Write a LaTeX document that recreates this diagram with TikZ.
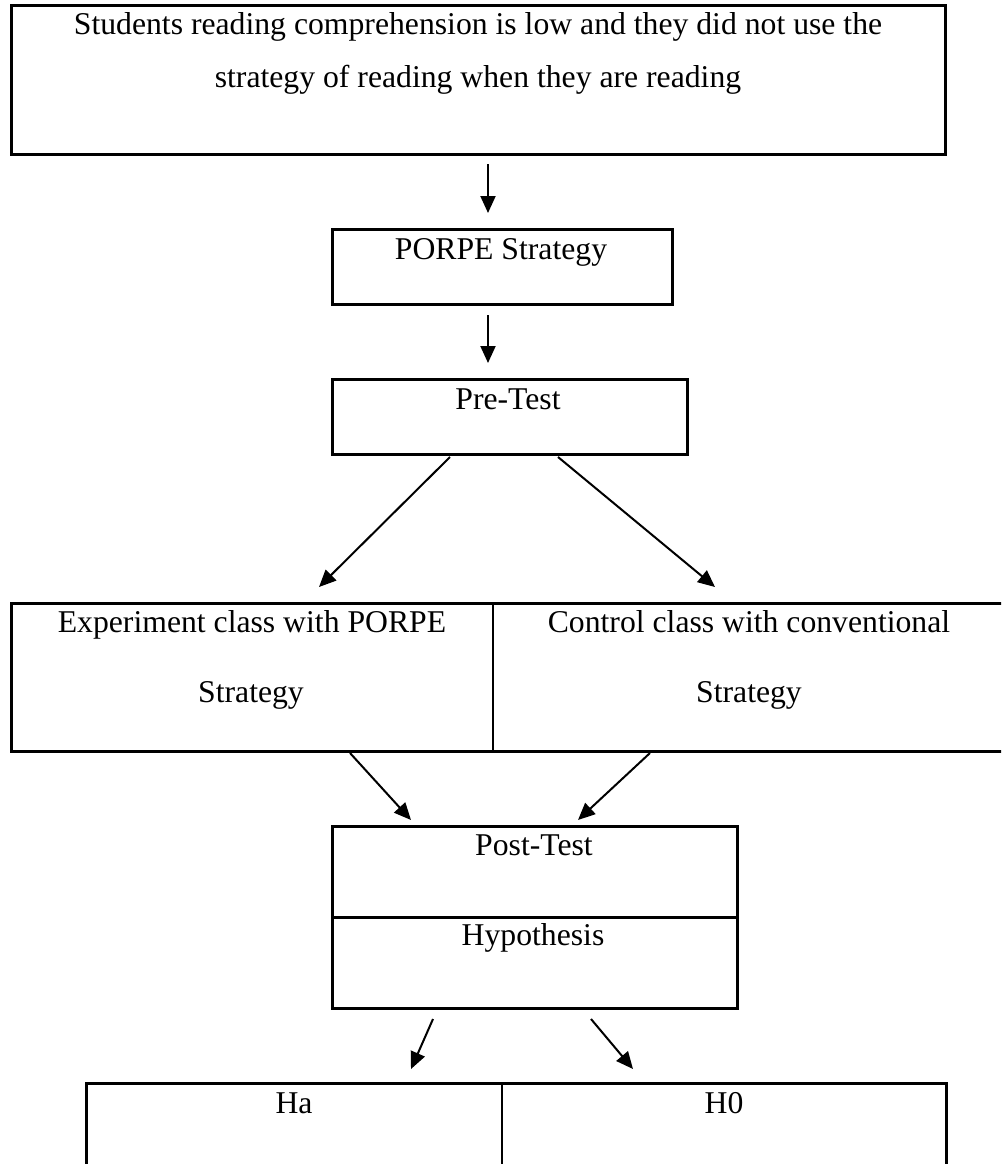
\documentclass[tikz,border=0pt]{standalone}
\usepackage{fontspec}
\setmainfont{Liberation Serif}
\usetikzlibrary{arrows.meta}
\begin{document}
\begin{tikzpicture}[x=1pt,y=-1pt,
  boxline/.style={draw=black,line width=3pt,inner sep=0pt,outer sep=0pt,anchor=north west},
  lbl/.style={anchor=base,inner sep=0pt,font=\fontsize{31.7}{38}\selectfont},
  arr/.style={line width=2pt,-{Triangle[length=17pt,width=15pt]}}]
\useasboundingbox (0,0) rectangle (1001,1164);
\clip (0,0) rectangle (1001,1164);
% boxes
\node[boxline,minimum width=934pt,minimum height=148pt] (problem) at (11,6) {};
\node[boxline,minimum width=340pt,minimum height=75pt] (porpe) at (332,229) {};
\node[boxline,minimum width=355pt,minimum height=75pt] (pretest) at (332,379) {};
\node[boxline,minimum width=994pt,minimum height=148pt] (classes) at (11,603) {};
\node[boxline,minimum width=405pt,minimum height=182pt] (posttest) at (332,826) {};
\node[boxline,minimum width=860pt,minimum height=160pt] (hyp) at (86,1083) {};
% dividers
\draw[line width=1.6pt] (493,603) -- (493,751);
\draw[line width=3pt] (332,917) -- (737,917);
\draw[line width=2.5pt] (502,1083) -- (502,1250);
% texts
\node[lbl] (t1) at (478,35) {Students reading comprehension is low and they did not use the};
\node[lbl] (t2) at (478,87) {strategy of reading when they are reading};
\node[lbl] (t3) at (501,259) {PORPE Strategy};
\node[lbl] (t4) at (508,409) {Pre-Test};
\node[lbl] (t5) at (252,632) {Experiment class with PORPE};
\node[lbl] (t6) at (251,702) {Strategy};
\node[lbl] (t7) at (749,632) {Control class with conventional};
\node[lbl] (t8) at (749,702) {Strategy};
\node[lbl] (t9) at (534,855) {Post-Test};
\node[lbl] (t10) at (533,945) {Hypothesis};
\node[lbl] (t11) at (294,1113) {Ha};
\node[lbl] (t12) at (724,1113) {H0};
% arrow end points
\coordinate (a1s) at (488,164); \coordinate (a1e) at (488,213);
\coordinate (a2s) at (488,315); \coordinate (a2e) at (488,363);
\coordinate (a3s) at (450,457); \coordinate (a3e) at (319,587);
\coordinate (a4s) at (558,457); \coordinate (a4e) at (715,587);
\coordinate (a5s) at (350,753); \coordinate (a5e) at (411,820);
\coordinate (a6s) at (650,753); \coordinate (a6e) at (578,820);
\coordinate (a7s) at (433,1019); \coordinate (a7e) at (411,1069);
\coordinate (a8s) at (591,1019); \coordinate (a8e) at (633,1069);
\draw[arr] (a1s) -- (a1e);
\draw[arr] (a2s) -- (a2e);
\draw[arr] (a3s) -- (a3e);
\draw[arr] (a4s) -- (a4e);
\draw[arr] (a5s) -- (a5e);
\draw[arr] (a6s) -- (a6e);
\draw[arr] (a7s) -- (a7e);
\draw[arr] (a8s) -- (a8e);
\end{tikzpicture}
\end{document}
